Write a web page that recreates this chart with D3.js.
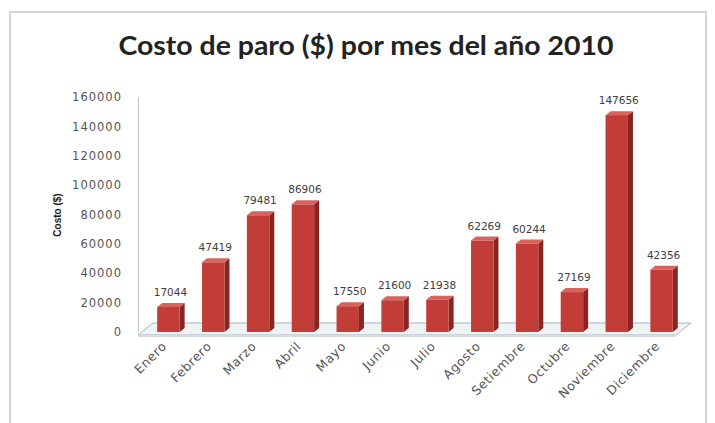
<!DOCTYPE html>
<html>
<head>
<meta charset="utf-8">
<script src="https://cdn.jsdelivr.net/npm/d3@7"></script>
<style>
  html, body { margin: 0; padding: 0; background: #fff; }
  svg { display: block; }
</style>
</head>
<body>
<svg id="chart" width="715" height="423"></svg>
<script>
// Monthly stoppage cost, 2010
const months = ["Enero", "Febrero", "Marzo", "Abril", "Mayo", "Junio", "Julio",
  "Agosto", "Setiembre", "Octubre", "Noviembre", "Diciembre"];
const costs = [17044, 47419, 79481, 86906, 17550, 21600, 21938,
  62269, 60244, 27169, 147656, 42356];
const yTicks = [0, 20000, 40000, 60000, 80000, 100000, 120000, 140000, 160000];

const svg = d3.select("#chart");

// chart frame
svg.append("path")
  .attr("d", "M10,423 V12 H706 V423")
  .attr("fill", "none").attr("stroke", "#c8c8c8").attr("stroke-width", 1.5);

svg.append("text")
  .attr("x", 366).attr("y", 55)
  .attr("text-anchor", "middle")
  .attr("font-family", "Lato, 'Open Sans', sans-serif")
  .attr("font-weight", "bold")
  .attr("font-size", 26)
  .attr("fill", "#222")
  .attr("textLength", 495).attr("lengthAdjust", "spacingAndGlyphs")
  .text("Costo de paro ($) por mes del año 2010");

const x = d3.scaleBand().domain(months).range([146, 684]).paddingInner(0.5).paddingOuter(0.25);
const y = d3.scaleLinear().domain([0, 160000]).range([332, 97]);

// depth offsets for the 3D look
const depth = { dx: 15, dy: -12 };
const barDepth = { dx: 5, dy: -4 };

// floor slab
const fx0 = 138, fx1 = 676, fy = 335;
svg.append("path")
  .attr("d", `M${fx0},${fy} L${fx1},${fy} L${fx1 + depth.dx},${fy + depth.dy} L${fx0 + depth.dx},${fy + depth.dy} Z`)
  .attr("fill", "#eef3f6").attr("stroke", "#a9b4ba").attr("stroke-width", 1);
svg.append("path")
  .attr("d", `M${fx0},${fy} L${fx1},${fy} L${fx1},${fy + 2} L${fx0},${fy + 2} Z`)
  .attr("fill", "#d5dde2");

// value axis
const yAxis = d3.axisLeft(y).tickValues(yTicks).tickSize(0).tickPadding(16).tickFormat(d3.format("d"));
const gy = svg.append("g").attr("transform", "translate(138,0)").call(yAxis);
gy.select(".domain").attr("stroke", "#bfbfbf");
gy.selectAll("text")
  .attr("font-family", "'DejaVu Sans', sans-serif")
  .attr("font-size", 11.5)
  .attr("letter-spacing", 1)
  .attr("fill", "#555");

svg.append("text")
  .attr("transform", "translate(61,215) rotate(-90)")
  .attr("text-anchor", "middle")
  .attr("font-family", "'Liberation Sans', Arial, sans-serif")
  .attr("font-weight", "bold")
  .attr("font-size", 10)
  .attr("fill", "#1a1a1a")
  .text("Costo ($)");

// bars
const bars = svg.append("g").selectAll("g").data(months.map((m, i) => ({ m, v: costs[i] })))
  .join("g");

bars.each(function (d) {
  const g = d3.select(this);
  const x0 = x(d.m), w = x.bandwidth();
  const yt = y(d.v), yb = y(0);
  // right side
  g.append("path")
    .attr("d", `M${x0 + w},${yb} L${x0 + w + barDepth.dx},${yb + barDepth.dy} L${x0 + w + barDepth.dx},${yt + barDepth.dy} L${x0 + w},${yt} Z`)
    .attr("fill", "#8a2421");
  // top
  g.append("path")
    .attr("d", `M${x0},${yt} L${x0 + barDepth.dx},${yt + barDepth.dy} L${x0 + w + barDepth.dx},${yt + barDepth.dy} L${x0 + w},${yt} Z`)
    .attr("fill", "#d9625d");
  // front
  g.append("rect")
    .attr("x", x0).attr("y", yt).attr("width", w).attr("height", yb - yt)
    .attr("fill", "#c23d38");
  // value label
  g.append("text")
    .attr("x", x0 + w / 2 + 2).attr("y", yt - 11)
    .attr("text-anchor", "middle")
    .attr("font-family", "'DejaVu Sans', sans-serif")
    .attr("font-size", 10.5)
    .attr("fill", "#404040")
    .text(d.v);
});

// category labels
svg.append("g").selectAll("text").data(months).join("text")
  .attr("transform", d => `translate(${x(d) + x.bandwidth() / 2 - 1},${347}) rotate(-45)`)
  .attr("text-anchor", "end")
  .attr("font-family", "'DejaVu Sans', sans-serif")
  .attr("font-size", 12.5)
  .attr("letter-spacing", 0.6)
  .attr("fill", "#555")
  .text(d => d);
</script>
</body>
</html>
